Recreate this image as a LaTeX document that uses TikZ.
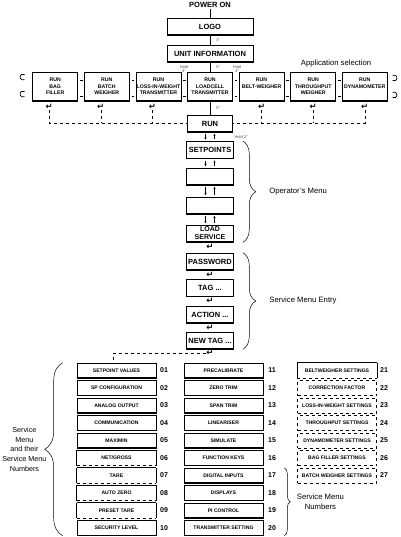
\documentclass[tikz,border=0pt]{standalone}
\usepackage{fontspec}
\setmainfont{Liberation Sans}
\newfontfamily\symfont{DejaVu Sans}
\usetikzlibrary{arrows.meta,positioning,decorations.pathreplacing}

\begin{document}
\begin{tikzpicture}[x=1pt,y=-1pt,line width=.6pt,
  keybox/.style={draw,inner sep=0pt,align=center,fill=white,
    path picture={\draw[line width=1.6pt] (path picture bounding box.south west) -- (path picture bounding box.south east);}},
  bigbox/.style={keybox,minimum width=86pt,minimum height=17pt,font=\bfseries\fontsize{7.5}{8}\selectfont},
  appbox/.style={keybox,minimum width=45pt,minimum height=29pt,font=\bfseries\fontsize{5.2}{6.5}\selectfont},
  menubox/.style={keybox,minimum width=47pt,minimum height=17pt,font=\bfseries\fontsize{7.5}{8}\selectfont},
  cellbase/.style={inner sep=0pt,align=center,minimum width=79pt,minimum height=15pt,font=\bfseries\fontsize{5.1}{6}\selectfont},
  cell/.style={cellbase,keybox},
  optcell/.style={cellbase,append after command={
    (\tikzlastnode.south west) edge (\tikzlastnode.north west)
    (\tikzlastnode.north west) edge (\tikzlastnode.north east)
    (\tikzlastnode.north east) edge (\tikzlastnode.south east)
    (\tikzlastnode.south west) edge[dashed,line width=1pt] (\tikzlastnode.south east)}},
  dashcell/.style={cellbase,draw,dashed,line width=.8pt},
  menunum/.style={font=\bfseries\fontsize{7}{8}\selectfont,inner sep=0pt},
  note/.style={font=\fontsize{7.7}{9.7}\selectfont,align=center},
  holdlbl/.style={font=\fontsize{4}{4.5}\selectfont,text=black!70,align=center,inner sep=1pt},
  enter/.style={font=\symfont\bfseries\fontsize{8.5}{8.5}\selectfont,inner sep=0pt},
  updown/.style={line width=.8pt,-{Latex[length=2.2pt,width=2.4pt]},shorten <=2pt,shorten >=1.5pt},
  side/.style={line width=.8pt},
  ring/.style={line width=.7pt},
  curly/.style={decorate,decoration={brace,amplitude=#1},line width=.5pt},
]
\useasboundingbox (0,0) rectangle (400,537);

\node[font=\bfseries\fontsize{7.5}{8}\selectfont,inner sep=1pt] (pwr) at (210,5) {POWER ON};
\node[bigbox] (logo) at (210,26.5) {LOGO};
\node[bigbox] (unit) at (210,53.5) {UNIT INFORMATION};

\foreach \t [count=\i] in {RUN\\BAG\\FILLER, RUN\\BATCH\\WEIGHER, RUN\\LOSS-IN-WEIGHT\\TRANSMITTER, RUN\\LOADCELL\\TRANSMITTER, RUN\\BELT-WEIGHER\\~, RUN\\THROUGHPUT\\WEIGHER, RUN\\DYNAMOMETER\\~}
  \node[appbox] (app\i) at ({210+51.6*(\i-4)},86.5) {\t};
\node[note,above=1pt of app6.north east] (appsel) {Application selection};

\node[menubox,minimum width=45pt] (run) at (210,123.5) {RUN};

\draw (pwr) -- (logo);
\draw (logo) -- node[holdlbl,right=5pt] {3"} (unit);
\draw (unit) -- node[holdlbl,right=5pt] {5"} (app4);
\draw (app4) -- node[holdlbl,right=5pt] {5"} (run);
\node[holdlbl] (holdl) at (184,69) {Hold\\3"};
\node[holdlbl] (holdr) at (237,69) {Hold\\3"};
\node[holdlbl] (holdrun) at (241,137) {Hold 3"};

\foreach \i in {1,...,6}{
  \draw[side] ([xshift=2pt,yshift=6.5pt]app\i.east) -- +(2.6,0);
  \draw[side] ([xshift=2pt,yshift=-9.5pt]app\i.east) -- +(2.6,0);
}
\draw[ring] (24.5,79.6) arc[start angle=60,end angle=300,radius=3];
\draw[ring] (24.5,96.6) arc[start angle=60,end angle=300,radius=3];
\draw[ring] (392.5,75.4) arc[start angle=-120,end angle=120,radius=3];
\draw[ring] (392.5,92.4) arc[start angle=-120,end angle=120,radius=3];

\foreach \i in {1,2,3}
  \node[enter] (e\i) at ([xshift=-6pt,yshift=-20.5pt]app\i.center) {↵};
\foreach \i in {5,6,7}
  \node[enter] (e\i) at ([yshift=-20.5pt]app\i.center) {↵};
\draw[dashed] (e1.south) |- (run.west);
\draw[dashed] (e2.south) -- (e2.south |- run.west);
\draw[dashed] (e3.south) -- (e3.south |- run.west);
\draw[dashed] (e7.south) |- (run.east);
\draw[dashed] (e5.south) -- (e5.south |- run.east);
\draw[dashed] (e6.south) -- (e6.south |- run.east);

\node[menubox] (set) at (210,150) {SETPOINTS};
\node[menubox] (op1) at (210,176.5) {};
\node[menubox] (op2) at (210,205.5) {};
\node[menubox,font=\bfseries\fontsize{7}{8}\selectfont] (load) at (210,233.5) {LOAD\\SERVICE};
\foreach \a/\b in {run/set,set/op1,op1/op2,op2/load}{
  \draw[updown] ([xshift=-4.5pt]\a.south) -- ([xshift=-4.5pt]\b.north);
  \draw[updown] ([xshift=4.5pt]\b.north) -- ([xshift=4.5pt]\a.south);
}

\node[menubox] (pass) at (210,261.5) {PASSWORD};
\node[menubox] (tag) at (210,288) {TAG ...};
\node[menubox] (act) at (210,314.5) {ACTION ...};
\node[menubox] (ntag) at (210,340.5) {NEW TAG ...};
\node[enter,below=1.5pt of load] (k1) {↵};
\node[enter,below=1.5pt of pass] (k2) {↵};
\node[enter,below=1.5pt of tag] (k3) {↵};
\node[enter,below=1.5pt of act] (k4) {↵};
\node[enter,below=1pt of ntag] (k5) {↵};

\draw[curly=13pt] ([xshift=9pt]set.north east) -- ([xshift=9pt]load.south east)
  node[note,midway,right=23pt] (opmenu) {Operator's Menu};
\draw[curly=13pt] ([xshift=9pt]pass.north east) -- ([xshift=9pt]ntag.south east)
  node[note,midway,right=23pt] (entry) {Service Menu Entry};

\foreach \t/\s [count=\i] in {SETPOINT VALUES/cell, SP CONFIGURATION/cell, ANALOG OUTPUT/cell, COMMUNICATION/cell, {MAX/MIN}/cell, {NET/GROSS}/optcell, TARE/optcell, AUTO ZERO/optcell, PRESET TARE/optcell, SECURITY LEVEL/cell}{
  \node[\s] (sm\i) at (116.5,{353+17.5*\i}) {\t};
  \node[menunum] (no\i) at (164,{353+17.5*\i}) {\ifnum\i<10 0\fi\i};
}
\foreach \t [count=\i from 11] in {PRECALIBRATE, ZERO TRIM, SPAN TRIM, LINEARISER, SIMULATE, FUNCTION KEYS, DIGITAL INPUTS, DISPLAYS, PI CONTROL, TRANSMITTER SETTING}{
  \node[cell] (sm\i) at (223.5,{353+17.5*(\i-10)}) {\t};
  \node[menunum] (no\i) at (272,{353+17.5*(\i-10)}) {\i};
}
\foreach \t/\s [count=\i from 21] in {BELTWEIGHER SETTINGS/optcell, CORRECTION FACTOR/dashcell, LOSS-IN-WEIGHT SETTINGS/dashcell, THROUGHPUT SETTINGS/dashcell, DYNAMOMETER SETTINGS/dashcell, BAG FILLER SETTINGS/dashcell, BATCH WEIGHER SETTINGS/dashcell}{
  \node[\s] (sm\i) at (337,{353+17.5*(\i-20)}) {\t};
  \node[menunum] (no\i) at (384,{353+17.5*(\i-20)}) {\i};
}

\draw[dashed] (k5.west) -| ([xshift=-3pt]sm1.north);

\draw[curly=18pt] ([xshift=-14pt]sm10.south west) -- ([xshift=-14pt]sm1.north west)
  node[note,midway,left=15pt,font=\fontsize{7.2}{9.7}\selectfont,inner sep=1pt] (smlist) {Service\\Menu\\and their\\Service Menu\\Numbers};
\draw[curly=6pt] ([xshift=21pt]sm17.north east) -- ([xshift=21pt]sm20.south east)
  node[note,midway,right=9pt] (smnum) {Service Menu\\Numbers};
\end{tikzpicture}
\end{document}
